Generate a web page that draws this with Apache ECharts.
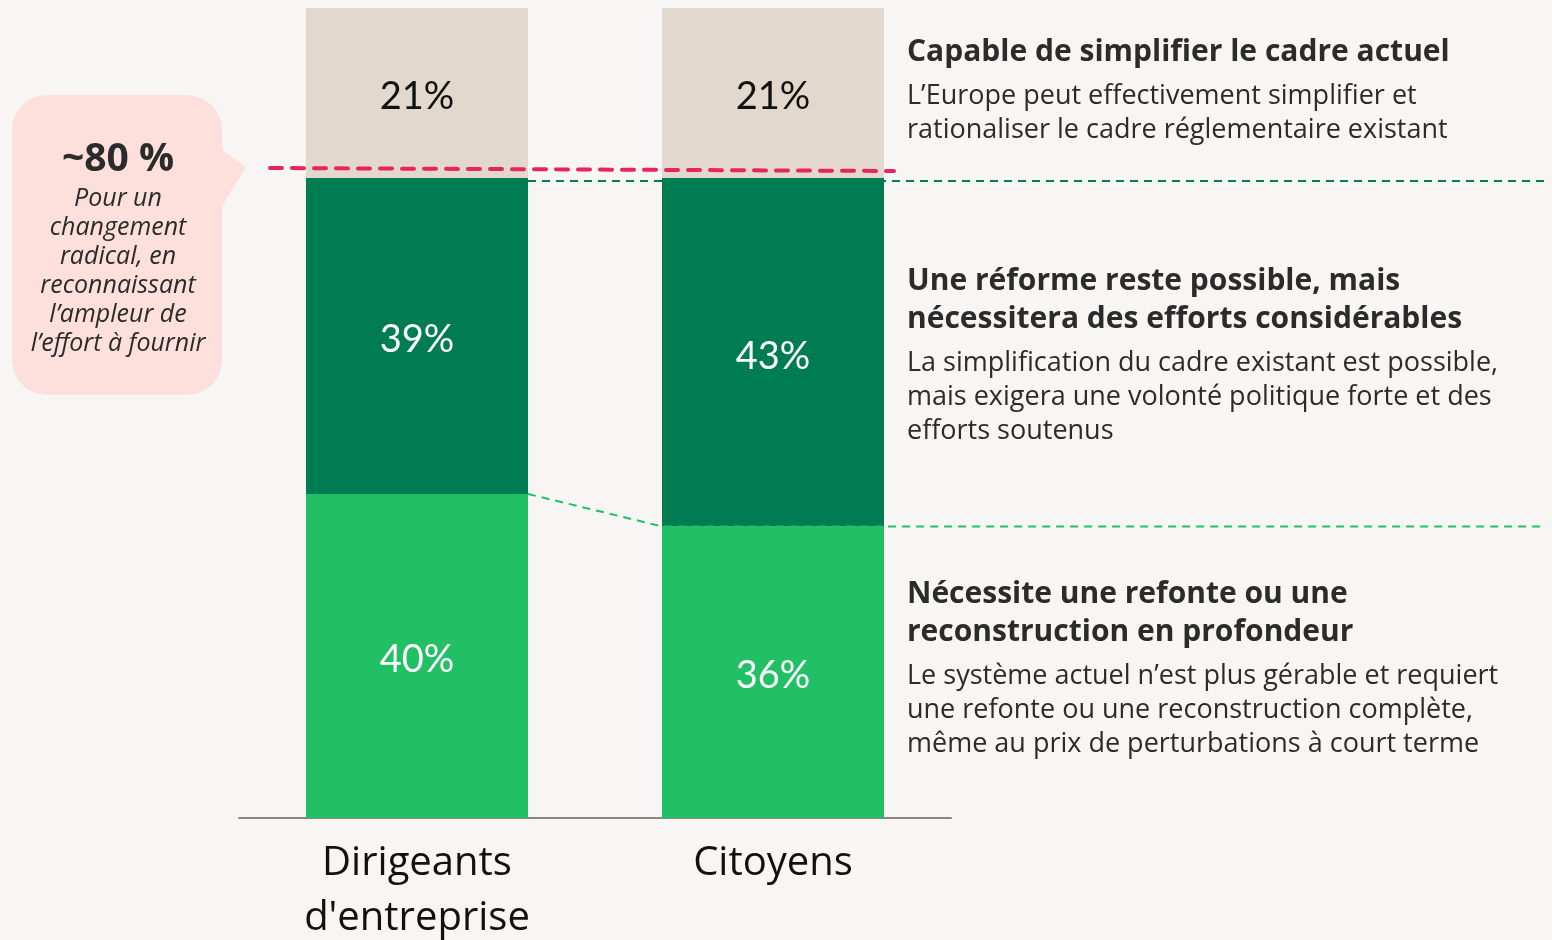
<!DOCTYPE html>
<html>
<head>
<meta charset="utf-8">
<script src="https://cdn.jsdelivr.net/npm/echarts@6/dist/echarts.min.js"></script>
<style>
  html, body { margin: 0; padding: 0; background: #f7f6f4; }
  #chart { width: 1552px; height: 940px; }
</style>
</head>
<body>
<div id="chart"></div>
<script>
// données
const categories = ['Dirigeants\nd\'entreprise', 'Citoyens'];
const refonte = [40, 36];   // Nécessite une refonte
const reforme = [39, 43];   // Une réforme reste possible
const capable = [21, 21];   // Capable de simplifier
const seuil = 80;           // ~80 %

const titres = [
  ['Capable de simplifier le cadre actuel'],
  ['Une réforme reste possible, mais', 'nécessitera des efforts considérables'],
  ['Nécessite une refonte ou une', 'reconstruction en profondeur']
];
const descriptions = [
  ['L\u2019Europe peut effectivement simplifier et', 'rationaliser le cadre réglementaire existant'],
  ['La simplification du cadre existant est possible,', 'mais exigera une volonté politique forte et des', 'efforts soutenus'],
  ['Le système actuel n\u2019est plus gérable et requiert', 'une refonte ou une reconstruction complète,', 'même au prix de perturbations à court terme']
];
const calloutLines = ['Pour un', 'changement', 'radical, en', 'reconnaissant', 'l\u2019ampleur de', 'l\u2019effort à fournir'];

const FONT = '"Open Sans", Lato, sans-serif';
const FONT_BAR = 'Lato, "Open Sans", sans-serif';
const BAR_W = 222;

const chart = echarts.init(document.getElementById('chart'));

// textes à droite
const textEls = [];
const titreY = [52, 281, 594];
titres.forEach((lignes, i) => {
  let y = titreY[i];
  lignes.forEach((t, j) => {
    textEls.push({
      type: 'text', id: 't' + i + '_' + j, x: 907, y: y,
      style: { text: t, font: 'bold 30px ' + FONT, fill: '#2b2b2b', verticalAlign: 'middle' }
    });
    y += 38;
  });
  let yd = y + 6;
  descriptions[i].forEach((t, j) => {
    textEls.push({
      type: 'text', id: 'd' + i + '_' + j, x: 907, y: yd,
      style: { text: t, font: '27px ' + FONT, fill: '#2b2b2b', verticalAlign: 'middle' }
    });
    yd += 34;
  });
});

// bulle à gauche
const bulle = [
  {
    type: 'polygon', id: 'pointe', z: 1,
    shape: { points: [[215, 145], [246, 167], [215, 218]] },
    style: { fill: '#fde0dc' }
  },
  {
    type: 'rect', id: 'bulle', z: 1,
    shape: { x: 12, y: 95, width: 210, height: 300, r: 35 },
    style: { fill: '#fde0dc' }
  },
  {
    type: 'text', id: 'bulleTitre', z: 2, x: 118, y: 160,
    style: { text: '~80 %', font: 'bold 39px ' + FONT, fill: '#2b2b2b', align: 'center', verticalAlign: 'middle' }
  }
];
calloutLines.forEach((t, i) => {
  bulle.push({
    type: 'text', id: 'bl' + i, z: 2, x: 118, y: 199 + i * 29,
    style: { text: t, font: 'italic 25px ' + FONT, fill: '#2b2b2b', align: 'center', verticalAlign: 'middle' }
  });
});

chart.setOption({
  backgroundColor: '#f7f6f4',
  animation: false,
  grid: { left: 239, right: 601, top: 8, bottom: 122, outerBoundsMode: 'none' },
  xAxis: {
    type: 'category',
    data: categories,
    axisTick: { show: false },
    axisLine: { lineStyle: { color: '#8a8684', width: 2 } },
    axisLabel: { fontSize: 40, fontFamily: FONT, color: '#111', lineHeight: 55, margin: 18 }
  },
  yAxis: { type: 'value', min: 0, max: 100, show: false },
  series: [
    {
      name: 'refonte', type: 'bar', stack: 'total', data: refonte, barWidth: BAR_W,
      itemStyle: { color: '#22c065' },
      label: { show: true, position: 'inside', formatter: '{c}%', fontSize: 38, fontFamily: FONT_BAR, color: '#fff', offset: [0, 4] }
    },
    {
      name: 'reforme', type: 'bar', stack: 'total', data: reforme, barWidth: BAR_W,
      itemStyle: { color: '#007c52' },
      label: { show: true, position: 'inside', formatter: '{c}%', fontSize: 38, fontFamily: FONT_BAR, color: '#fff', offset: [0, 4] }
    },
    {
      name: 'capable', type: 'bar', stack: 'total', data: capable, barWidth: BAR_W,
      itemStyle: { color: '#e2d8ce' },
      label: { show: true, position: 'inside', formatter: '{c}%', fontSize: 38, fontFamily: FONT_BAR, color: '#111', offset: [0, 4] }
    }
  ],
  graphic: textEls.concat(bulle)
});

// lignes pointillées calculées à partir des échelles
const px = (i, v) => chart.convertToPixel({ gridIndex: 0 }, [i, v]);
const bas0 = px(0, refonte[0]);
const bas1 = px(1, refonte[1]);
const haut0 = px(0, refonte[0] + reforme[0]);
const haut1 = px(1, refonte[1] + reforme[1]);
const rouge0 = px(0, seuil);
const rouge1 = px(1, seuil);

chart.setOption({
  graphic: [
    {
      type: 'polyline', id: 'lBas', z: 10,
      shape: { points: [[bas0[0] + BAR_W / 2, bas0[1]], [bas1[0] - BAR_W / 2, bas1[1]], [1545, bas1[1]]] },
      style: { stroke: '#22c065', lineWidth: 2, lineDash: [8, 6], fill: null }
    },
    {
      type: 'line', id: 'lHaut', z: 10,
      shape: { x1: haut0[0] + BAR_W / 2, y1: haut0[1] + 3, x2: 1545, y2: haut1[1] + 3 },
      style: { stroke: '#007c52', lineWidth: 2, lineDash: [8, 6] }
    },
    {
      type: 'line', id: 'lRouge', z: 11,
      shape: { x1: 270, y1: rouge0[1] - 2, x2: rouge1[0] + BAR_W / 2 + 10, y2: rouge1[1] + 1 },
      style: { stroke: '#e8245c', lineWidth: 4, lineDash: [12, 10], lineCap: 'round' }
    }
  ]
});
</script>
</body>
</html>
